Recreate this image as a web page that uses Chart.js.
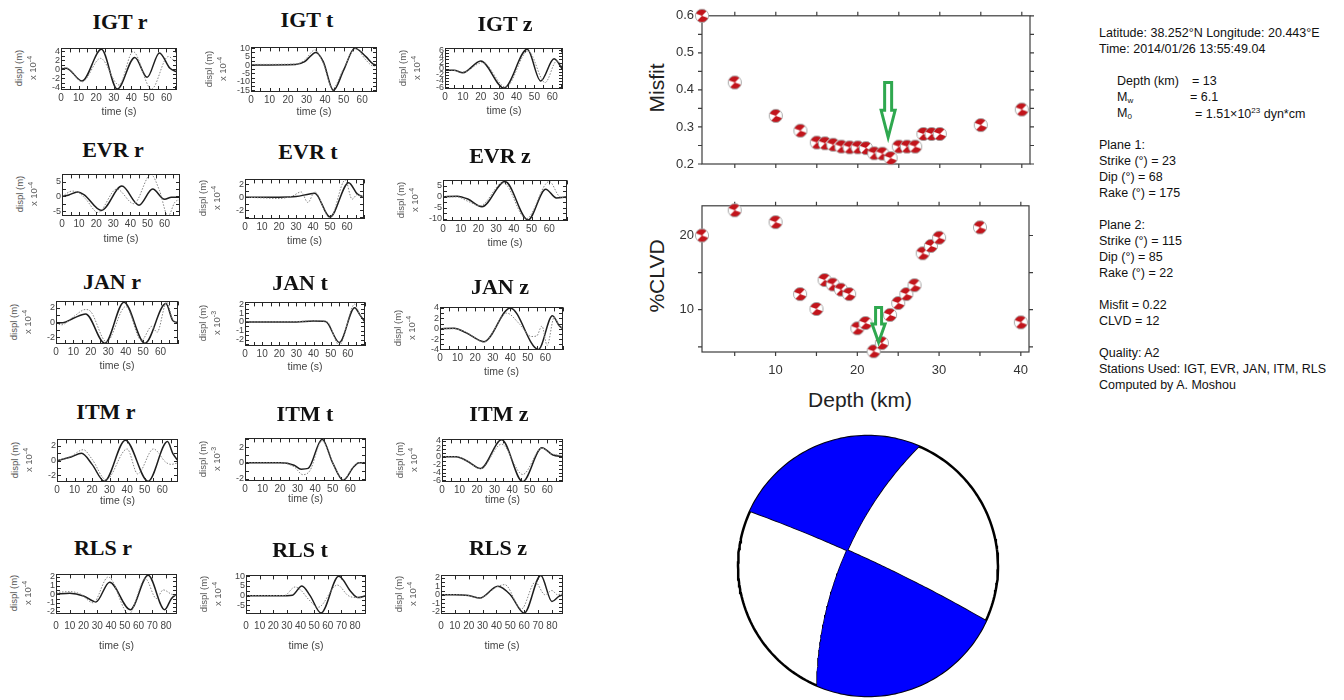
<!DOCTYPE html>
<html lang="en">
<head>
<meta charset="utf-8">
<title>Moment tensor solution 2014/01/26 13:55:49</title>
<script src="https://cdn.jsdelivr.net/npm/chart.js@4.4.1/dist/chart.umd.min.js"></script>
<style>
  html, body { margin: 0; padding: 0; background: #fff; }
  #page { position: relative; width: 1344px; height: 700px; overflow: hidden; background: #fff;
          font-family: "Liberation Sans", Arial, Helvetica, sans-serif; }
  #page canvas { position: absolute; }
  .wtitle { position: absolute; transform: translate(-50%, -50%); white-space: nowrap;
            font: bold 22px "Liberation Serif", "Times New Roman", serif; color: #111; }
  .vlab { position: absolute; transform: translate(-50%, -50%) rotate(-90deg); white-space: nowrap;
          font-size: 9.5px; color: #555; }
  .vlab sup { font-size: 7px; vertical-align: 4px; }
  .tlab { position: absolute; transform: translate(-50%, -50%); white-space: nowrap; font-size: 10.5px; color: #444; }
  .axt { position: absolute; transform: translate(-50%, -50%); white-space: nowrap; font-size: 21px; color: #222; }
  .axt.rot { transform: translate(-50%, -50%) rotate(-90deg); }
  .info { position: absolute; transform: translateY(-50%); white-space: nowrap; font-size: 12.5px; color: #111; }
  .info sub { font-size: 8px; vertical-align: -2px; }
  .info sup { font-size: 8px; vertical-align: 5px; }
</style>
</head>
<body>
<div id="page">
  <div class="axt rot" style="left:657px;top:88px">Misfit</div>
  <div class="axt rot" style="left:657px;top:276px">%CLVD</div>
  <div class="axt" style="left:860px;top:400px">Depth (km)</div>

  <div class="info" style="left:1099px;top:33px">Latitude: 38.252°N Longitude: 20.443°E</div>
  <div class="info" style="left:1099px;top:49px">Time: 2014/01/26 13:55:49.04</div>
  <div class="info" style="left:1117px;top:81px">Depth (km)</div>
  <div class="info" style="left:1192px;top:81px">= 13</div>
  <div class="info" style="left:1117px;top:97px">M<sub>w</sub></div>
  <div class="info" style="left:1190px;top:97px">= 6.1</div>
  <div class="info" style="left:1117px;top:113px">M<sub>0</sub></div>
  <div class="info" style="left:1195px;top:113px">= 1.51×10<sup>23</sup> dyn*cm</div>
  <div class="info" style="left:1099px;top:145px">Plane 1:</div>
  <div class="info" style="left:1099px;top:161px">Strike (°) = 23</div>
  <div class="info" style="left:1099px;top:177px">Dip (°) = 68</div>
  <div class="info" style="left:1099px;top:193px">Rake (°) = 175</div>
  <div class="info" style="left:1099px;top:225px">Plane 2:</div>
  <div class="info" style="left:1099px;top:241px">Strike (°) = 115</div>
  <div class="info" style="left:1099px;top:257px">Dip (°) = 85</div>
  <div class="info" style="left:1099px;top:273px">Rake (°) = 22</div>
  <div class="info" style="left:1099px;top:305px">Misfit = 0.22</div>
  <div class="info" style="left:1099px;top:321px">CLVD = 12</div>
  <div class="info" style="left:1099px;top:353px">Quality: A2</div>
  <div class="info" style="left:1099px;top:369px">Stations Used: IGT, EVR, JAN, ITM, RLS</div>
  <div class="info" style="left:1099px;top:385px">Computed by A. Moshou</div>
</div>
<script>
// ---------------------------------------------------------------------------
// Waveform fits: [time (s), displacement] — observed (solid) and synthetic (dotted)
// ---------------------------------------------------------------------------
const IGT_r_obs = [[0,0],[3,0.2],[12,-2.6],[23,4.4],[32,-4.4],[42,2.6],[49,-1.8],[56,3.6],[62,0.2],[66,-0.6]];
const IGT_r_syn = [[0,0.3],[3,0.3],[12,-2.8],[22.5,2.4],[33,-3.5],[41,3.9],[51.5,-4.4],[61,2.8],[66,1.2]];
const IGT_t_obs = [[0,0],[24,0.3],[29,2],[35,7.5],[39,2],[44.5,-15],[50,-3],[56,10],[62,5],[66,0.5],[68,0]];
const IGT_t_syn = [[0,0.4],[24,0.6],[29,3],[34.5,9],[39,1],[44,-14],[50,-2],[56.5,10],[62,3],[66,-0.5],[68,-0.5]];
const IGT_z_obs = [[0,-0.5],[5,-0.5],[10,-1.3],[20,2.5],[33,-6.3],[46,6.3],[53.5,-4],[61,3.2],[66,-0.5]];
const IGT_z_syn = [[0,-0.3],[5,-0.5],[10,-1.1],[21,2],[34,-6],[46.5,5.8],[56,-4.5],[62.5,2.5],[66,0.5]];

const EVR_r_obs = [[0,0],[4,0.5],[9,1.5],[13,0.5],[23,-4.8],[35,3.5],[45,-3],[53,2.5],[60,-1],[64,-0.3],[69,-0.3]];
const EVR_r_syn = [[0,0],[6,1.8],[10,1.2],[14,-1],[21,-5.5],[32,2.5],[42,-2.5],[52,7.5],[57,2],[62,-6.7],[66,-2],[69,-1]];
const EVR_t_obs = [[0,0],[20,0],[30,0.1],[38,0.5],[41,0.6],[50,-3],[61,2.2],[66,0.5],[70,0]];
const EVR_t_syn = [[0,0],[10,-0.1],[20,-0.2],[28,0.2],[33,0.8],[37,-0.8],[41,0.8],[50,-3.2],[59,2.6],[63,-0.3],[66,0.4],[70,0]];
const EVR_z_obs = [[0,0],[8,0.3],[14,-1],[22,-4.5],[35,7],[48,-10.5],[58,3.5],[64,-0.5],[70,0]];
const EVR_z_syn = [[0,0],[8,0],[14,-2],[21,-4],[34,6.5],[47,-10],[60,7],[66,0],[70,-0.5]];

const JAN_r_obs = [[0,0],[4,0],[10,0.6],[17,1.2],[28,-2.8],[39,2.8],[51,-2.8],[63,2.6],[67,0.3],[70,0]];
const JAN_r_syn = [[0,0],[3,-0.3],[10,0.8],[17,1.8],[20,1.5],[29,-2.6],[40,2.2],[49,-2.4],[55,-0.5],[58,-1.3],[63.5,2.8],[67,0.4],[70,0]];
const JAN_t_obs = [[0,0],[30,0],[40,0.1],[47,0.05],[55,-2.3],[64,1.6],[67,0.8],[70,0]];
const JAN_t_syn = [[0,0],[30,0.05],[42,0.15],[48,0],[55,-2.6],[64,2],[67,0.8],[70,0.2]];
const JAN_z_obs = [[0,0],[8,0.1],[15,-0.8],[25,-2.5],[40,4],[56,-4],[64,2.5],[68,0.5],[70,0]];
const JAN_z_syn = [[0,0],[8,0],[15,-0.7],[25,-2.6],[38,3],[45,1],[52,-1.5],[55,-1.4],[58,0.5],[61,-3.2],[65,2.2],[68,0.5],[70,0]];

const ITM_r_obs = [[0,0],[8,0.5],[14,1],[20,-0.5],[27,-2.8],[39,2.8],[52,-2.8],[63,2.6],[66,1],[69,0]];
const ITM_r_syn = [[0,0],[8,0.6],[15,1.5],[20,0.2],[28,-2.6],[40,1.6],[46,-1.8],[55,1.6],[62,-0.2],[65,-0.5],[69,-0.3]];
const ITM_t_obs = [[0,0],[20,0],[28,-0.3],[32,-0.8],[36,-0.7],[44,3],[50,0],[56,-2.2],[62,-0.5],[65,0],[69,0]];
const ITM_t_syn = [[0,0],[20,0],[28,-0.5],[33,-1.5],[37,-1],[44,2.8],[50,0],[56,-2.1],[62,-0.4],[65,0],[69,0]];
const ITM_z_obs = [[0,0],[8,0],[14,-1],[22,-3],[34,4.3],[46,-6.3],[57,2.3],[63,0.5],[69,0]];
const ITM_z_syn = [[0,0],[8,0],[14,-1],[22,-3],[34,3.2],[46,-4.5],[57,2.2],[62,0.8],[69,0.3]];

const RLS_r_obs = [[0,0],[10,0.1],[20,-0.2],[29,-0.9],[39,1.4],[54,-1.8],[67,2.2],[79,-1.8],[84,-0.5],[88,0]];
const RLS_r_syn = [[0,0.2],[10,0.3],[18,0],[27,-1],[38,2],[53,-2.3],[65,1.8],[73,-0.5],[78,0.5],[84,0],[88,-0.2]];
const RLS_t_obs = [[0,0],[30,0],[34,0.2],[41,5],[47,0],[55,-9],[68,10],[77,2],[82,-1],[88,0]];
const RLS_t_syn = [[0,0],[28,0],[36,4.5],[40,3],[46,-2],[53,-6],[67,5.5],[75,0],[82,-1],[88,0]];
const RLS_z_obs = [[0,0],[10,0],[20,-0.1],[28,-0.4],[41,1],[50,0],[60,-2.2],[72,2.3],[80,-0.8],[85,-0.2],[88,0]];
const RLS_z_syn = [[0,0],[10,0],[20,-0.1],[28,-0.4],[40,0.9],[46,1.2],[58,-1.7],[68,1.5],[75,0],[80,0.5],[84,0],[88,0.2]];

// ---------------------------------------------------------------------------
// Depth search: misfit and CLVD per trial depth
// ---------------------------------------------------------------------------
const depths = [1, 5, 10, 13, 15, 16, 17, 18, 19, 20, 21, 22, 23, 24, 25, 26, 27, 28, 29, 30, 35, 40];
const misfit = [0.60, 0.42, 0.33, 0.29, 0.258, 0.256, 0.252, 0.247, 0.245, 0.245, 0.243, 0.229, 0.228, 0.216,
                0.247, 0.247, 0.247, 0.281, 0.281, 0.281, 0.305, 0.347];
const clvd   = [20.0, 23.4, 21.8, 12.1, 10.1, 14.0, 13.4, 12.7, 12.1, 7.5, 8.2, 4.4, 5.5, 9.3,
                10.9, 12.1, 13.3, 17.6, 18.6, 19.7, 21.1, 8.3];
const bestDepthMisfit = 23.7;
const bestDepthClvd = 22.6;

const depthTicks = [10, 20, 30, 40];
const misfitTicks = [0.2, 0.3, 0.4, 0.5, 0.6];
const clvdTicks = [10, 20];

// Nodal planes of the preferred solution
const planeStrike = [23, 115];
const planeDip = [68, 85];

// ---------------------------------------------------------------------------
const page = document.getElementById('page');
Chart.defaults.font.family = '"Liberation Sans", Arial, Helvetica, sans-serif';

function addLabel(cls, x, y, html) {
  const d = document.createElement('div');
  d.className = cls;
  d.style.left = x + 'px';
  d.style.top = y + 'px';
  d.innerHTML = html;
  page.appendChild(d);
  return d;
}
function addCanvas(x, y, w, h) {
  const c = document.createElement('canvas');
  c.width = w; c.height = h;
  c.style.left = x + 'px'; c.style.top = y + 'px';
  page.appendChild(c);
  return c;
}
function tickValues(lo, hi, step) {
  const out = [];
  for (let k = Math.ceil(lo / step - 1e-9); k * step <= hi + 1e-9; k++) out.push(+(k * step).toFixed(6));
  return out;
}
const asPoints = arr => arr.map(([x, y]) => ({ x, y }));

// Box frame with inward ticks on all four sides (seismogram panels)
const waveFrame = {
  id: 'waveFrame',
  afterDatasetsDraw(chart, args, o) {
    const { ctx, chartArea: a, scales: { x, y } } = chart;
    ctx.save();
    ctx.strokeStyle = '#262626';
    ctx.lineWidth = 1;
    ctx.strokeRect(Math.round(a.left) + 0.5, Math.round(a.top) + 0.5,
                   Math.round(a.right - a.left) - 1, Math.round(a.bottom - a.top) - 1);
    ctx.beginPath();
    tickValues(x.min, x.max, o.xMinor).forEach(v => {
      const px = Math.round(x.getPixelForValue(v)) + 0.5;
      ctx.moveTo(px, a.top); ctx.lineTo(px, a.top + 4);
      ctx.moveTo(px, a.bottom); ctx.lineTo(px, a.bottom - 4);
    });
    tickValues(y.min, y.max, o.yMinor).forEach(v => {
      const py = Math.round(y.getPixelForValue(v)) + 0.5;
      ctx.moveTo(a.left, py); ctx.lineTo(a.left + 4, py);
      ctx.moveTo(a.right, py); ctx.lineTo(a.right - 4, py);
    });
    ctx.stroke();
    ctx.restore();
  }
};

// Frame with outward ticks (depth-search panels)
const gmtFrame = {
  id: 'gmtFrame',
  beforeDatasetsDraw(chart, args, o) {
    const { ctx, chartArea: a, scales: { x, y } } = chart;
    ctx.save();
    ctx.strokeStyle = '#3c3c3c';
    ctx.lineWidth = 1.2;
    ctx.strokeRect(a.left, a.top, a.right - a.left, a.bottom - a.top);
    ctx.beginPath();
    o.xTicks.forEach(v => {
      const px = x.getPixelForValue(v);
      ctx.moveTo(px, a.top); ctx.lineTo(px, a.top - o.len);
      ctx.moveTo(px, a.bottom); ctx.lineTo(px, a.bottom + o.len);
    });
    o.yTicks.forEach(v => {
      const py = y.getPixelForValue(v);
      ctx.moveTo(a.left, py); ctx.lineTo(a.left - o.len, py);
      ctx.moveTo(a.right, py); ctx.lineTo(a.right + o.len, py);
    });
    ctx.stroke();
    ctx.restore();
  }
};

// Hollow arrow marking the preferred depth
const bestArrow = {
  id: 'bestArrow',
  afterDatasetsDraw(chart, args, o) {
    const { ctx, scales: { x, y } } = chart;
    const cx = x.getPixelForValue(o.x);
    const yt = y.getPixelForValue(o.top), yn = y.getPixelForValue(o.neck), yp = y.getPixelForValue(o.tip);
    const s = o.shaft / 2, h = o.head / 2;
    ctx.save();
    ctx.beginPath();
    ctx.moveTo(cx - s, yt); ctx.lineTo(cx + s, yt); ctx.lineTo(cx + s, yn); ctx.lineTo(cx + h, yn);
    ctx.lineTo(cx, yp); ctx.lineTo(cx - h, yn); ctx.lineTo(cx - s, yn); ctx.closePath();
    ctx.fillStyle = '#fff'; ctx.fill();
    ctx.lineJoin = 'miter';
    ctx.strokeStyle = '#2fa84f'; ctx.lineWidth = 3; ctx.stroke();
    ctx.restore();
  }
};

// ---------------------------------------------------------------------------
// Seismogram panels
// ---------------------------------------------------------------------------
const waveLayout = [
  { name: 'IGT r', obs: IGT_r_obs, syn: IGT_r_syn, box: [61, 46, 116, 44],  title: [120, 22],  timeY: 111, xpad: 2, xmax: 66, xlab: 60, ymin: -4.6, ymax: 4.6, ystep: 2, exp: -4 },
  { name: 'IGT t', obs: IGT_t_obs, syn: IGT_t_syn, box: [251, 45, 126, 47], title: [307, 20],  timeY: 111, xpad: 2, xmax: 68, xlab: 60, ymin: -16, ymax: 10.5, ystep: 5, exp: -4 },
  { name: 'IGT z', obs: IGT_z_obs, syn: IGT_z_syn, box: [445, 46, 118, 43], title: [505, 24],  timeY: 110, xpad: 2, xmax: 66, xlab: 60, ymin: -6.6, ymax: 6.6, ystep: 2, exp: -4 },
  { name: 'EVR r', obs: EVR_r_obs, syn: EVR_r_syn, box: [62, 172, 118, 44], title: [113, 150], timeY: 238, xpad: 2, xmax: 69, xlab: 60, ymin: -6.7, ymax: 7.5, ystep: 5, exp: -4 },
  { name: 'EVR t', obs: EVR_t_obs, syn: EVR_t_syn, box: [245, 177, 119, 42], title: [308, 152], timeY: 240, xpad: 2, xmax: 70, xlab: 60, ymin: -3.3, ymax: 2.7, ystep: 2, exp: -4 },
  { name: 'EVR z', obs: EVR_z_obs, syn: EVR_z_syn, box: [443, 178, 124, 43], title: [500, 156], timeY: 242, xpad: 2, xmax: 70, xlab: 60, ymin: -11, ymax: 7.5, ystep: 5, exp: -4 },
  { name: 'JAN r', obs: JAN_r_obs, syn: JAN_r_syn, box: [56, 299, 122, 45], title: [112, 282], timeY: 365, xpad: 2, xmax: 70, xlab: 60, ymin: -2.9, ymax: 2.9, ystep: 2, exp: -4 },
  { name: 'JAN t', obs: JAN_t_obs, syn: JAN_t_syn, box: [245, 300, 120, 46], title: [300, 283], timeY: 366, xpad: 2, xmax: 70, xlab: 60, ymin: -2.7, ymax: 2.2, ystep: 1, exp: -3 },
  { name: 'JAN z', obs: JAN_z_obs, syn: JAN_z_syn, box: [440, 305, 123, 45], title: [500, 287], timeY: 371, xpad: 2, xmax: 70, xlab: 60, ymin: -4.1, ymax: 4.1, ystep: 2, exp: -4 },
  { name: 'ITM r', obs: ITM_r_obs, syn: ITM_r_syn, box: [57, 437, 121, 45], title: [106, 412], timeY: 500, xpad: 2, xmax: 69, xlab: 60, ymin: -2.9, ymax: 2.9, ystep: 2, exp: -4 },
  { name: 'ITM t', obs: ITM_t_obs, syn: ITM_t_syn, box: [245, 436, 121, 45], title: [305, 414], timeY: 498, xpad: 2, xmax: 69, xlab: 60, ymin: -2.3, ymax: 3.1, ystep: 2, exp: -3 },
  { name: 'ITM z', obs: ITM_z_obs, syn: ITM_z_syn, box: [442, 437, 121, 45], title: [499, 414], timeY: 499, xpad: 2, xmax: 69, xlab: 60, ymin: -6.4, ymax: 4.4, ystep: 2, exp: -4 },
  { name: 'RLS r', obs: RLS_r_obs, syn: RLS_r_syn, box: [56, 572, 121, 42], title: [103, 548], timeY: 645, xpad: 6, xmax: 88, xlab: 80, ymin: -2.3, ymax: 2.3, ystep: 1, exp: -4 },
  { name: 'RLS t', obs: RLS_t_obs, syn: RLS_t_syn, box: [246, 573, 120, 41], title: [300, 550], timeY: 645, xpad: 6, xmax: 88, xlab: 80, ymin: -9.5, ymax: 10.5, ystep: 5, exp: -4 },
  { name: 'RLS z', obs: RLS_z_obs, syn: RLS_z_syn, box: [441, 573, 122, 41], title: [498, 548], timeY: 645, xpad: 6, xmax: 88, xlab: 80, ymin: -2.3, ymax: 2.3, ystep: 1, exp: -4 }
];

const PAD_L = 34, PAD_T = 4, PAD_R = 4, PAD_B = 22;
waveLayout.forEach(p => {
  const [bx, by, bw, bh] = p.box;
  const cv = addCanvas(bx - PAD_L, by - PAD_T, bw + PAD_L + PAD_R, bh + PAD_T + PAD_B);
  const xt = tickValues(0, p.xlab, 10);
  const yt = tickValues(p.ymin, p.ymax, p.ystep);
  new Chart(cv, {
    type: 'line',
    data: {
      datasets: [
        { data: asPoints(p.syn), borderColor: '#858585', borderWidth: 1, borderDash: [1.5, 1.5],
          pointRadius: 0, cubicInterpolationMode: 'monotone' },
        { data: asPoints(p.obs), borderColor: '#1e1e1e', borderWidth: 1.5,
          pointRadius: 0, cubicInterpolationMode: 'monotone' }
      ]
    },
    options: {
      responsive: false, animation: false, devicePixelRatio: 1, events: [],
      layout: { padding: { left: 0, top: PAD_T, right: PAD_R, bottom: 0 } },
      plugins: {
        legend: { display: false }, tooltip: { enabled: false },
        waveFrame: { xMinor: p.xmax > 80 ? 10 : 5, yMinor: p.ystep / 2 }
      },
      scales: {
        x: {
          type: 'linear', min: 0, max: p.xmax,
          afterFit(s) { s.height = PAD_B; },
          afterBuildTicks(s) { s.ticks = xt.map(v => ({ value: v })); },
          grid: { display: false, drawTicks: false }, border: { display: false },
          ticks: { padding: p.xpad, font: { size: 10 }, color: '#444', maxRotation: 0, autoSkip: false }
        },
        y: {
          type: 'linear', min: p.ymin, max: p.ymax,
          afterFit(s) { s.width = PAD_L; },
          afterBuildTicks(s) { s.ticks = yt.map(v => ({ value: v })); },
          grid: { display: false, drawTicks: false }, border: { display: false },
          ticks: { padding: 1, font: { size: 9 }, color: '#444', autoSkip: false }
        }
      }
    },
    plugins: [waveFrame]
  });
  addLabel('wtitle', p.title[0], p.title[1], p.name);
  addLabel('vlab', bx - 43, by + bh / 2, 'displ (m)');
  addLabel('vlab', bx - 29, by + bh / 2, 'x 10<sup>' + p.exp + '</sup>');
  addLabel('tlab', bx + bw / 2, p.timeY, 'time (s)');
});

// ---------------------------------------------------------------------------
// Depth-search panels: each trial solution drawn as a small focal sphere
// ---------------------------------------------------------------------------
function makeSphereIcon() {
  const c = document.createElement('canvas');
  c.width = c.height = 16;
  const g = c.getContext('2d');
  const cx = 8, cy = 8, r = 6.6;
  g.beginPath(); g.arc(cx, cy, r, 0, 2 * Math.PI); g.fillStyle = '#fff'; g.fill();
  g.fillStyle = '#c2141b';
  [[-160, -45], [20, 135]].forEach(([a0, a1]) => {
    g.beginPath(); g.moveTo(cx, cy);
    g.arc(cx, cy, r, a0 * Math.PI / 180, a1 * Math.PI / 180);
    g.closePath(); g.fill();
  });
  g.beginPath(); g.arc(cx, cy, r, 0, 2 * Math.PI);
  g.strokeStyle = '#a0a0a0'; g.lineWidth = 0.9; g.stroke();
  return c;
}
const sphereIcon = makeSphereIcon();

function depthChart(canvas, values, yMin, yMax, yLabels, yFmt, frameYTicks, showX, pad, arrow) {
  return new Chart(canvas, {
    type: 'scatter',
    data: { datasets: [{ data: depths.map((d, i) => ({ x: d, y: values[i] })),
                         pointStyle: sphereIcon, pointRadius: 7, clip: false }] },
    options: {
      responsive: false, animation: false, devicePixelRatio: 1, events: [],
      layout: { padding: pad },
      plugins: {
        legend: { display: false }, tooltip: { enabled: false },
        gmtFrame: { xTicks: tickValues(5, 40, 5), yTicks: frameYTicks, len: 4 },
        bestArrow: arrow
      },
      scales: {
        x: {
          type: 'linear', min: 1, max: 41, display: showX,
          afterFit(s) { s.height = showX ? 33 : 0; },
          afterBuildTicks(s) { s.ticks = depthTicks.map(v => ({ value: v })); },
          grid: { display: false, drawTicks: false }, border: { display: false },
          ticks: { padding: 11, font: { size: 13 }, color: '#333', maxRotation: 0 }
        },
        y: {
          type: 'linear', min: yMin, max: yMax,
          afterFit(s) { s.width = 72; },
          afterBuildTicks(s) { s.ticks = yLabels.map(v => ({ value: v })); },
          grid: { display: false, drawTicks: false }, border: { display: false },
          ticks: { padding: 8, font: { size: 13 }, color: '#333', callback: yFmt }
        }
      }
    },
    plugins: [gmtFrame, bestArrow]
  });
}

depthChart(addCanvas(630, 0, 420, 180), misfit, 0.2, 0.6, misfitTicks, v => v.toFixed(1),
           tickValues(0.2, 0.6, 0.05), false, { top: 14, right: 20, bottom: 16, left: 0 },
           { x: bestDepthMisfit, top: 0.42, neck: 0.345, tip: 0.272, shaft: 7, head: 14 });

depthChart(addCanvas(630, 190, 420, 195), clvd, 4.3, 24, clvdTicks, v => String(v),
           tickValues(5, 20, 5), true, { top: 12, right: 21, bottom: 0, left: 0 },
           { x: bestDepthClvd, top: 10.3, neck: 8.06, tip: 5.6, shaft: 6, head: 13 });

// ---------------------------------------------------------------------------
// Focal mechanism (equal-angle projection of the two nodal planes)
// ---------------------------------------------------------------------------
const D2R = Math.PI / 180;
const cross = (a, b) => [a[1] * b[2] - a[2] * b[1], a[2] * b[0] - a[0] * b[2], a[0] * b[1] - a[1] * b[0]];
const dot = (a, b) => a[0] * b[0] + a[1] * b[1] + a[2] * b[2];

function planeBasis(strike, dip) {        // (north, east, down) unit vectors
  const s = strike * D2R, d = dip * D2R, a = s + Math.PI / 2;
  return {
    sv: [Math.cos(s), Math.sin(s), 0],
    up: [-Math.cos(a) * Math.cos(d), -Math.sin(a) * Math.cos(d), -Math.sin(d)]
  };
}
function project(v) {
  const p = Math.asin(Math.max(-1, Math.min(1, -v[2])));
  const th = Math.atan2(v[1], v[0]);
  const r = Math.tan(Math.PI / 4 - p / 2);
  return { x: r * Math.sin(th), y: r * Math.cos(th) };
}
function planeArc(P, t0, t1, n = 80) {
  const out = [];
  for (let i = 0; i <= n; i++) {
    const t = t0 + (t1 - t0) * i / n, c = Math.cos(t), s = Math.sin(t);
    out.push(project([c * P.sv[0] + s * P.up[0], c * P.sv[1] + s * P.up[1], c * P.sv[2] + s * P.up[2]]));
  }
  return out;
}
function rimArc(az0, az1, n = 80) {
  const out = [];
  for (let i = 0; i <= n; i++) {
    const a = (az0 + (az1 - az0) * i / n) * D2R;
    out.push({ x: Math.sin(a), y: Math.cos(a) });
  }
  return out;
}

const P1 = planeBasis(planeStrike[0], planeDip[0]);
const P2 = planeBasis(planeStrike[1], planeDip[1]);
let nullAxis = cross(cross(P1.sv, P1.up), cross(P2.sv, P2.up));
const nLen = Math.hypot(...nullAxis);
nullAxis = nullAxis.map(c => c / nLen);
if (nullAxis[2] > 0) nullAxis = nullAxis.map(c => -c);
const tB1 = Math.atan2(dot(nullAxis, P1.up), dot(nullAxis, P1.sv));
const tB2 = Math.atan2(dot(nullAxis, P2.up), dot(nullAxis, P2.sv));

const quadrantA = [...planeArc(P2, Math.PI, tB2), ...planeArc(P1, tB1, 0),
                   ...rimArc(planeStrike[0], planeStrike[1] + 180 - 360)];
const quadrantB = [...planeArc(P2, 0, tB2), ...planeArc(P1, tB1, Math.PI),
                   ...rimArc(planeStrike[0] + 180, planeStrike[1])];

const BB_R = 130, BB_HALF = 133;
const bbCanvas = addCanvas(868 - BB_HALF, 566 - BB_HALF, 2 * BB_HALF, 2 * BB_HALF);
const bbLim = BB_HALF / BB_R;
new Chart(bbCanvas, {
  type: 'line',
  data: {
    datasets: [
      { data: quadrantA, fill: 'shape', backgroundColor: '#0000ff', borderColor: '#0000ff', borderWidth: 0.5, pointRadius: 0, tension: 0 },
      { data: quadrantB, fill: 'shape', backgroundColor: '#0000ff', borderColor: '#0000ff', borderWidth: 0.5, pointRadius: 0, tension: 0 },
      { data: planeArc(P1, 0, Math.PI), borderColor: '#000', borderWidth: 2, pointRadius: 0, fill: false, tension: 0 },
      { data: planeArc(P2, 0, Math.PI), borderColor: '#000', borderWidth: 2, pointRadius: 0, fill: false, tension: 0 },
      { data: rimArc(0, 360, 240), borderColor: '#000', borderWidth: 2.5, pointRadius: 0, fill: false, tension: 0 }
    ]
  },
  options: {
    responsive: false, animation: false, devicePixelRatio: 1, events: [],
    layout: { padding: 0 },
    plugins: { legend: { display: false }, tooltip: { enabled: false } },
    scales: {
      x: { type: 'linear', min: -bbLim, max: bbLim, display: false },
      y: { type: 'linear', min: -bbLim, max: bbLim, display: false }
    }
  }
});
</script>
</body>
</html>
